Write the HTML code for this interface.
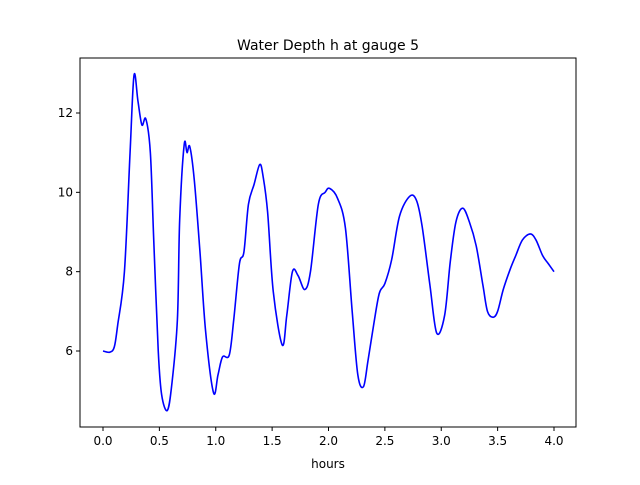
<!DOCTYPE html>
<html><head><meta charset="utf-8"><style>
body{margin:0;background:#fff;font-family:"Liberation Sans","DejaVu Sans",sans-serif}
text{font-family:"DejaVu Sans","Liberation Sans",sans-serif}
</style></head><body>
<svg id="chart" width="640" height="480" xmlns="http://www.w3.org/2000/svg">
<rect width="640" height="480" fill="#fff"/>
<text x="328" y="50" text-anchor="middle" font-size="14">Water Depth h at gauge 5</text>
<g id="axes"></g>
<text x="328" y="468" text-anchor="middle" font-size="12">hours</text>
</svg>
<script>
const hours=[0,0.06,0.1,0.13,0.19,0.24,0.275,0.31,0.345,0.38,0.42,0.45,0.49,0.52,0.57,0.61,0.66,0.68,0.72,0.745,0.77,0.81,0.86,0.91,0.98,1.02,1.06,1.12,1.16,1.21,1.25,1.29,1.34,1.39,1.42,1.46,1.51,1.59,1.63,1.68,1.73,1.79,1.84,1.91,1.97,2.01,2.08,2.15,2.21,2.26,2.31,2.35,2.40,2.45,2.5,2.56,2.63,2.72,2.78,2.83,2.90,2.96,3.03,3.08,3.13,3.19,3.25,3.31,3.37,3.41,3.46,3.5,3.55,3.61,3.66,3.72,3.79,3.84,3.9,3.95,4.0];
const depth=[6.0,5.97,6.1,6.65,8.0,11.0,12.95,12.3,11.7,11.85,11.0,8.8,6.0,4.9,4.5,5.15,6.8,9.3,11.2,11.0,11.15,10.3,8.5,6.5,4.95,5.4,5.85,5.9,6.8,8.2,8.5,9.7,10.2,10.7,10.4,9.5,7.5,6.15,6.9,8.0,7.9,7.55,8.0,9.7,10.0,10.1,9.85,9.1,7.0,5.4,5.1,5.75,6.65,7.45,7.7,8.3,9.4,9.9,9.8,9.15,7.65,6.45,6.9,8.25,9.25,9.6,9.25,8.65,7.65,7.0,6.85,7.0,7.55,8.05,8.4,8.8,8.95,8.8,8.4,8.2,8.0];
const xTicks=[0,0.5,1,1.5,2,2.5,3,3.5,4];
const xTickLabels=["0.0","0.5","1.0","1.5","2.0","2.5","3.0","3.5","4.0"];
const yTicks=[6,8,10,12];
const yTickLabels=["6","8","10","12"];
const L=80,R=576,T=58,B=427;
const xs=h=>103+h*(554-103)/4;
const ys=v=>351-(v-6)*(351-113)/6;
const NS="http://www.w3.org/2000/svg";
const g=document.getElementById('axes');
function mk(t,a){const e=document.createElementNS(NS,t);for(const k in a)e.setAttribute(k,a[k]);g.appendChild(e);return e;}
xTicks.forEach((t,i)=>{const x=xs(t);
 const l=mk('line',{x1:x,x2:x,y1:B,y2:B+4,stroke:'#000'});
 
 
 const tx=mk('text',{x:x,y:B+18,'text-anchor':'middle','font-size':'12'});tx.textContent=xTickLabels[i];
 
 });
yTicks.forEach((t,i)=>{const y=ys(t);
 const l=mk('line',{x1:L-4,x2:L,y1:y,y2:y,stroke:'#000'});
 
 
 const tx=mk('text',{x:L-7,y:y+4,'text-anchor':'end','font-size':'12'});tx.textContent=yTickLabels[i];
 
 });
const pts=hours.map((h,i)=>[xs(h),ys(depth[i])]);
let d='M'+pts[0][0]+','+pts[0][1];
for(let i=0;i<pts.length-1;i++){const p0=pts[Math.max(0,i-1)],p1=pts[i],p2=pts[i+1],p3=pts[Math.min(pts.length-1,i+2)];
 const c1=[p1[0]+(p2[0]-p0[0])/6,p1[1]+(p2[1]-p0[1])/6],c2=[p2[0]-(p3[0]-p1[0])/6,p2[1]-(p3[1]-p1[1])/6];
 d+=` C${c1[0]},${c1[1]} ${c2[0]},${c2[1]} ${p2[0]},${p2[1]}`;}
const line=mk('path',{d:d,fill:'none',stroke:'#0000ff','stroke-width':1.6});


const fr=mk('rect',{x:L,y:T,width:R-L,height:B-T,fill:'none',stroke:'#000','stroke-width':1});


</script>
</body></html>
